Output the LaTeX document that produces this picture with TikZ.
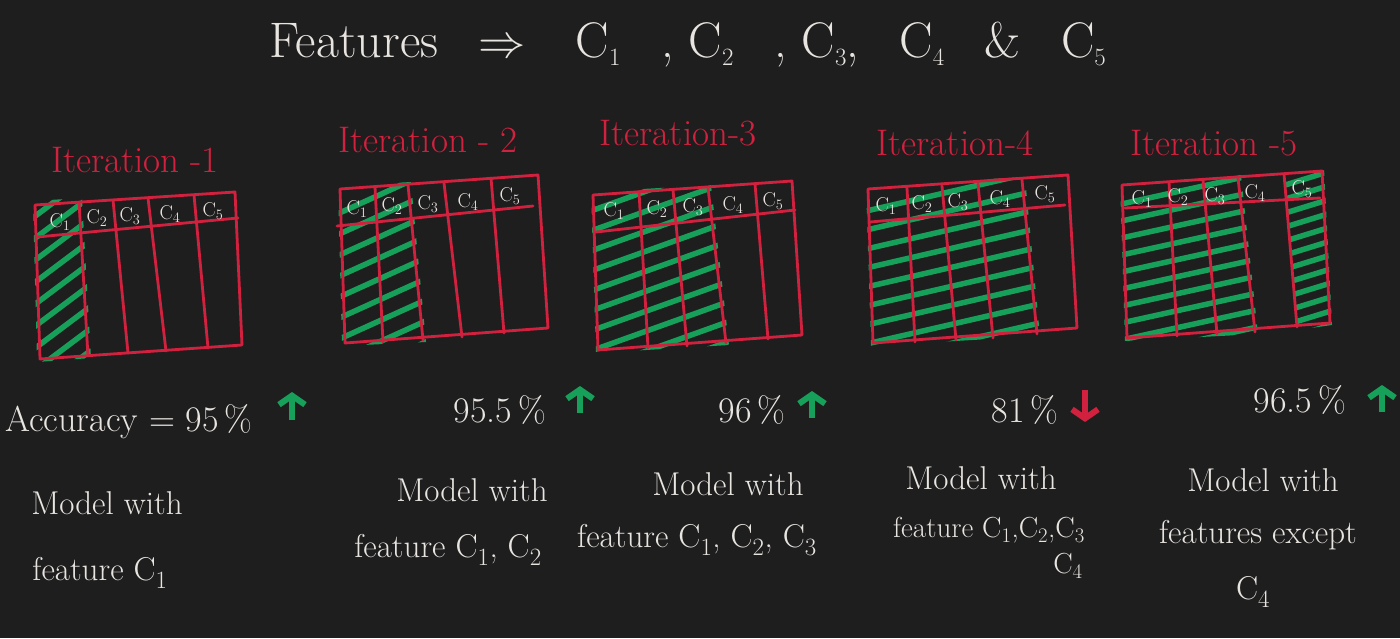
\documentclass[tikz,border=0pt]{standalone}
\usetikzlibrary{arrows.meta}
\definecolor{bg}{HTML}{1E1E1E}
\definecolor{pen}{HTML}{D2213F}
\definecolor{hatch}{HTML}{17A05A}
\definecolor{chalk}{HTML}{E8E4E0}
\begin{document}
\begin{tikzpicture}[x=1pt,y=-1pt,
  grid/.style={draw=pen, line width=2.8pt, line join=round, line cap=round},
  hatchline/.style={draw=hatch, line width=5.5pt, line cap=round},
  cell/.style={text=chalk, font=\fontsize{20}{20}\selectfont, inner sep=0pt},
  iter/.style={text=pen, font=\fontsize{37}{37}\selectfont, inner sep=0pt},
  acc/.style={text=chalk, font=\fontsize{36}{36}\selectfont, inner sep=0pt},
  note/.style={text=chalk, font=\fontsize{33}{33}\selectfont, inner sep=0pt},
  smallnote/.style={text=chalk, font=\fontsize{29}{29}\selectfont, inner sep=0pt},
  title/.style={text=chalk, font=\fontsize{50}{50}\selectfont, inner sep=0pt},
  up/.style={draw=hatch, line width=6pt, -{Straight Barb[length=9pt,width=26pt]}},
  down/.style={draw=pen, line width=6pt, -{Straight Barb[length=9pt,width=26pt]}}]
\fill[bg] (0,0) rectangle (1400,638);
\useasboundingbox (0,0) rectangle (1400,638);

% title
\node[title] (title) at (688,45) {Features \enspace\scalebox{1.9}{$\Rightarrow$}\quad C$_1$\enspace\ , C$_2$\enspace\ , C$_3$, \enspace C$_4$\enspace\ \& \enspace C$_5$};

% ---------- hatching ----------
\begin{scope}
  \clip (33,201) -- (82,198) -- (91,358) -- (37,362) -- cycle;
  \foreach \y in {220,242,...,400} \draw[hatchline] (30,\y) -- ++(60,-45);
\end{scope}
\begin{scope}
  \clip (338,186) -- (411,182) -- (426,342) -- (342,346) -- cycle;
  \foreach \y in {215,236,...,420} \draw[hatchline] (335,\y) -- ++(95,-43);
\end{scope}
\begin{scope}
  \clip (591,192) -- (711,185) -- (729,345) -- (596,353) -- cycle;
  \foreach \y in {212,232,...,440} \draw[hatchline] (588,\y) -- ++(145,-52);
\end{scope}
\begin{scope}
  \clip (866,186) -- (1025,177) -- (1040,336) -- (871,346) -- cycle;
  \foreach \y in {212,231,...,390} \draw[hatchline] (862,\y) -- ++(182,-42);
\end{scope}
\begin{scope}
  \clip (1120,182) -- (1241,175) -- (1258,334) -- (1125,341) -- cycle;
  \foreach \y in {205,222,...,390} \draw[hatchline] (1117,\y) -- ++(145,-32);
\end{scope}
\begin{scope}
  \clip (1285,171) -- (1324,168) -- (1332,325) -- (1297,330) -- cycle;
  \foreach \y in {186,200,...,340} \draw[hatchline] (1282,\y) -- ++(52,-16);
\end{scope}

% ---------- table 1 ----------
\draw[grid] (35,205) -- (235,192) -- (242,345) -- (40,359) -- cycle;
\draw[grid] (37,237) -- (238,218);
\draw[grid] (79,202) -- (88,356);
\draw[grid] (113,200) -- (128,353);
\draw[grid] (148,198) -- (166,351);
\draw[grid] (194,195) -- (208,348);
\node[cell] (t1c1) at (60,222) {C$_1$};
\node[cell] (t1c2) at (97,218) {C$_2$};
\node[cell] (t1c3) at (130,216) {C$_3$};
\node[cell] (t1c4) at (170,214) {C$_4$};
\node[cell] (t1c5) at (213,211) {C$_5$};
\node[iter] (it1) at (135,160) {Iteration -1};

% ---------- table 2 ----------
\draw[grid] (340,189) -- (538,175) -- (548,328) -- (345,343) -- cycle;
\draw[grid] (337,226) -- (533,206);
\draw[grid] (375,187) -- (383,342);
\draw[grid] (408,185) -- (423,340);
\draw[grid] (444,183) -- (462,337);
\draw[grid] (491,178) -- (504,333);
\node[cell] (t2c1) at (357,209) {C$_1$};
\node[cell] (t2c2) at (392,206) {C$_2$};
\node[cell] (t2c3) at (428,204) {C$_3$};
\node[cell] (t2c4) at (468,202) {C$_4$};
\node[cell] (t2c5) at (510,196) {C$_5$};
\node[iter] (it2) at (428,140) {Iteration - 2};

% ---------- table 3 ----------
\draw[grid] (593,195) -- (792,181) -- (802,335) -- (598,350) -- cycle;
\draw[grid] (596,232) -- (795,210);
\draw[grid] (639,192) -- (648,348);
\draw[grid] (673,190) -- (687,346);
\draw[grid] (708,188) -- (726,343);
\draw[grid] (755,184) -- (768,339);
\node[cell] (t3c1) at (614,211) {C$_1$};
\node[cell] (t3c2) at (657,209) {C$_2$};
\node[cell] (t3c3) at (693,207) {C$_3$};
\node[cell] (t3c4) at (733,205) {C$_4$};
\node[cell] (t3c5) at (773,201) {C$_5$};
\node[iter] (it3) at (678,133) {Iteration-3};

% ---------- table 4 ----------
\draw[grid] (868,189) -- (1068,175) -- (1077,328) -- (873,343) -- cycle;
\draw[grid] (870,222) -- (1065,205);
\draw[grid] (907,188) -- (915,342);
\draw[grid] (942,186) -- (956,340);
\draw[grid] (978,184) -- (993,338);
\draw[grid] (1022,180) -- (1037,334);
\node[cell] (t4c1) at (886,206) {C$_1$};
\node[cell] (t4c2) at (922,204) {C$_2$};
\node[cell] (t4c3) at (958,202) {C$_3$};
\node[cell] (t4c4) at (1000,199) {C$_4$};
\node[cell] (t4c5) at (1045,194) {C$_5$};
\node[iter] (it4) at (955,143) {Iteration-4};

% ---------- table 5 ----------
\draw[grid] (1122,185) -- (1322,171) -- (1330,323) -- (1127,338) -- cycle;
\draw[grid] (1125,208) -- (1320,198);
\draw[grid] (1169,182) -- (1177,336);
\draw[grid] (1203,180) -- (1217,334);
\draw[grid] (1238,178) -- (1255,332);
\draw[grid] (1284,174) -- (1297,327);
\node[cell] (t5c1) at (1142,199) {C$_1$};
\node[cell] (t5c2) at (1178,197) {C$_2$};
\node[cell] (t5c3) at (1215,196) {C$_3$};
\node[cell] (t5c4) at (1255,193) {C$_4$};
\node[cell] (t5c5) at (1302,189) {C$_5$};
\node[iter] (it5) at (1214,143) {Iteration -5};

% ---------- accuracy ----------
\node[acc, anchor=west] (acc1) at (5,422) {Accuracy = 95\,\%};
\node[acc] (acc2) at (500,410) {95.5\,\%};
\node[acc] (acc3) at (752,410) {96\,\%};
\node[acc] (acc4) at (1025,410) {81\,\%};
\node[acc] (acc5) at (1300,400) {96.5\,\%};
\coordinate (a1s) at (292,420); \coordinate (a1e) at (292,392);
\coordinate (a2s) at (580,413); \coordinate (a2e) at (580,386);
\coordinate (a3s) at (812,418); \coordinate (a3e) at (812,391);
\coordinate (a4s) at (1085,390); \coordinate (a4e) at (1085,422);
\coordinate (a5s) at (1382,412); \coordinate (a5e) at (1382,385);
\draw[up] (a1s) -- (a1e);
\draw[up] (a2s) -- (a2e);
\draw[up] (a3s) -- (a3e);
\draw[down] (a4s) -- (a4e);
\draw[up] (a5s) -- (a5e);

% ---------- notes ----------
\node[note] (m1a) at (107,503) {Model with};
\node[note] (m1b) at (100,573) {feature C$_1$};
\node[note] (m2a) at (472,490) {Model with};
\node[note] (m2b) at (448,550) {feature C$_1$, C$_2$};
\node[note] (m3a) at (728,484) {Model with};
\node[note] (m3b) at (697,540) {feature C$_1$, C$_2$, C$_3$};
\node[note] (m4a) at (981,478) {Model with};
\node[smallnote] (m4b) at (989,530) {feature C$_1$,C$_2$,C$_3$};
\node[smallnote] (m4c) at (1068,566) {C$_4$};
\node[note] (m5a) at (1263,480) {Model with};
\node[note] (m5b) at (1258,535) {features except};
\node[note] (m5c) at (1253,592) {C$_4$};
\end{tikzpicture}
\end{document}
